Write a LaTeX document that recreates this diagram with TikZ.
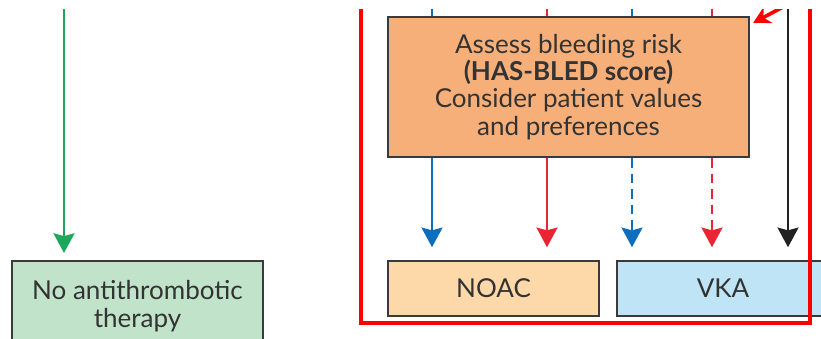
\documentclass[tikz,border=0pt]{standalone}
\usepackage{fontspec}
\setmainfont{Lato}
\usetikzlibrary{calc}
\usetikzlibrary{arrows.meta}
\tikzset{>={Stealth[length=14pt,width=15pt,inset=2pt]}}
\usepackage{xcolor}
\definecolor{boxline}{HTML}{3A3A3A}
\definecolor{txtgray}{HTML}{333333}
\definecolor{riskfill}{HTML}{F7AF79}
\definecolor{noacfill}{HTML}{FDD8A8}
\definecolor{vkafill}{HTML}{BEE4F6}
\definecolor{nonefill}{HTML}{C0E3C9}
\definecolor{arrblue}{HTML}{0B6FBE}
\definecolor{arrred}{HTML}{EA2533}
\definecolor{arrgreen}{HTML}{1BA85A}
\definecolor{arrblack}{HTML}{222222}

\tikzset{
  box/.style={draw=boxline, line width=1.6pt, text=txtgray, align=center,
    inner sep=0pt, font=\fontsize{18.5}{19.4}\selectfont},
  flow/.style={line width=1.4pt},
  dashflow/.style={line width=1.4pt, dash pattern=on 7pt off 4pt},
  frame/.style={draw=red, line width=2.8pt},
}

\begin{document}
\begin{tikzpicture}[x=0.025cm, y=-0.025cm]
  % 画布
  \useasboundingbox (0,0) rectangle (821,339);
  \clip (0,10) rectangle (821,339);

  % 坐标点定义
  \coordinate (G) at (64,0);
  \coordinate (B1) at (432,0);
  \coordinate (R1) at (547,0);
  \coordinate (B2) at (632,0);
  \coordinate (R2) at (712,0);
  \coordinate (K) at (788,0);

  % 方框
  \node[box, fill=riskfill, minimum width=9.025cm, minimum height=3.5cm]
    (risk) at (568.5,87) {Assess bleeding risk\\ \textbf{(HAS-BLED score)}\\
    Consider patient values\\ and preferences};
  \node[box, fill=noacfill, minimum width=5.275cm, minimum height=1.375cm]
    (noac) at (493.5,288.5) {NOAC};
  \node[box, fill=vkafill, minimum width=5.3cm, minimum height=1.375cm]
    (vka) at (723,288.5) {VKA};
  \node[box, fill=nonefill, minimum width=6.275cm, minimum height=2.25cm,
    anchor=north] (none) at (137.5,260) {No antithrombotic\\ therapy};

  % 上方进入的线
  \draw[flow, arrblue] (B1) -- (B1 |- risk.north);
  \draw[flow, arrred] (R1) -- (R1 |- risk.north);
  \draw[flow, arrblue] (B2) -- (B2 |- risk.north);
  \draw[flow, arrred] (R2) -- (R2 |- risk.north);

  % 箭头
  \draw[flow, arrgreen, ->, shorten >=5pt] (G) -- (G |- none.north);
  \draw[flow, arrblue, ->, shorten >=9pt] (B1 |- risk.south) -- (B1 |- noac.north);
  \draw[flow, arrred, ->, shorten >=9pt] (R1 |- risk.south) -- (R1 |- noac.north);
  \draw[dashflow, arrblue, ->, shorten >=9pt] (B2 |- risk.south) -- (B2 |- vka.north);
  \draw[dashflow, arrred, ->, shorten >=9pt] (R2 |- risk.south) -- (R2 |- vka.north);
  \draw[flow, arrblack, ->, shorten >=9pt] (K) -- (K |- vka.north);

  % 红色框
  \draw[frame] (361,-10) rectangle (810,323);
  \coordinate (P) at (800,-2);
  \coordinate (Q) at ($(risk.north east)+(3,7)$);
  \draw[red, line width=2.6pt, -{Stealth[length=12pt,width=13pt]}] (P) -- (Q);
\end{tikzpicture}
\end{document}
